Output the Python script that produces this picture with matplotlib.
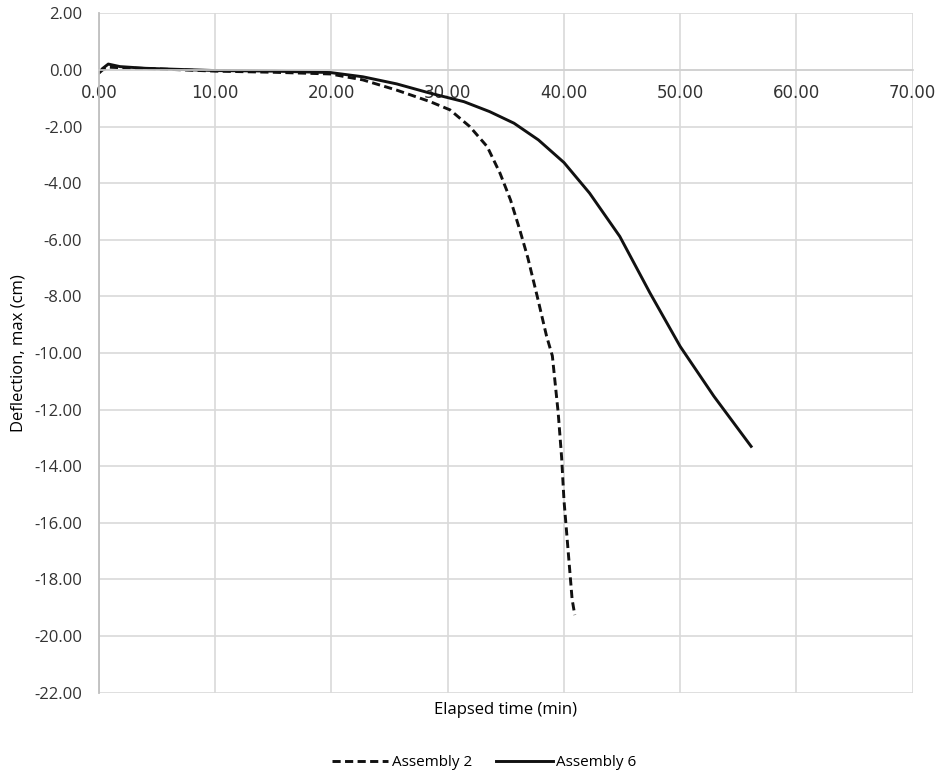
import numpy as np
import matplotlib
matplotlib.use('Agg')
import matplotlib.pyplot as plt

# Assembly 2 (dashed)
t_a2 = [0.0, 0.3, 0.8, 2.0, 5.0, 10.0, 15.0, 19.9, 22.7, 25.6, 28.5, 30.2, 31.9,
        33.4, 34.5, 35.4, 36.2, 36.9, 37.7, 38.5, 39.0, 39.5, 39.8, 40.0, 40.4,
        40.7, 40.93]
d_a2 = [-0.1, 0.0, 0.1, 0.08, 0.04, -0.04, -0.08, -0.14, -0.35, -0.71, -1.12, -1.41, -2.0,
        -2.71, -3.65, -4.59, -5.65, -6.65, -8.0, -9.4, -10.1, -12.1, -13.7, -15.2, -17.2,
        -18.7, -19.26]

# Assembly 6 (solid)
t_a6 = [0.0, 0.3, 0.8, 1.8, 4.0, 7.0, 10.0, 15.0, 19.9, 22.7, 25.6, 28.5, 31.4, 33.6,
        35.7, 37.8, 40.0, 42.2, 44.8, 47.4, 50.0, 52.9, 56.1]
d_a6 = [-0.1, 0.05, 0.21, 0.12, 0.06, 0.02, -0.02, -0.04, -0.09, -0.24, -0.49, -0.82,
        -1.12, -1.47, -1.88, -2.47, -3.27, -4.35, -5.88, -7.88, -9.77, -11.53, -13.3]

xticks = np.arange(0, 71, 10)
yticks = np.arange(-22, 3, 2)

W, H = 941, 775
fig = plt.figure(figsize=(W / 100, H / 100), dpi=100)
ax = fig.add_axes([99 / W, 1 - 692.6 / H, (912.7 - 99) / W, (692.6 - 13.4) / H])

ax.plot(t_a2, d_a2, color='#111111', lw=2.1, linestyle=(0, (2.8, 1.5)), label='Assembly 2',
        solid_joinstyle='round')
ax.plot(t_a6, d_a6, color='#111111', lw=2.1, label='Assembly 6', solid_joinstyle='round')

ax.set_xlim(0, 70)
ax.set_ylim(-22, 2)
ax.set_xticks(xticks)
ax.set_yticks(yticks)
ax.set_xticklabels(['%.2f' % v for v in xticks], family='Open Sans')
ax.set_yticklabels(['%.2f' % v for v in yticks], family='Open Sans')
ax.grid(True, color='#d9d9d9', lw=1.2)
ax.set_axisbelow(True)

for s in ['top', 'right']:
    ax.spines[s].set_visible(False)
ax.spines['left'].set_color('#bfbfbf')
ax.spines['left'].set_linewidth(1.3)
ax.spines['bottom'].set_position(('data', 0))
ax.spines['bottom'].set_color('#d0d0d0')
ax.spines['bottom'].set_linewidth(1.2)
ax.tick_params(length=0, labelsize=12, labelcolor='#333333')
ax.tick_params(axis='y', pad=12)
ax.tick_params(axis='x', pad=10)

ax.set_ylabel('Deflection, max (cm)', fontsize=12, family='Open Sans', labelpad=6)
fig.text((99 + 912.7) / 2 / W, 1 - 710 / H, 'Elapsed time (min)', ha='center', va='center',
         fontsize=12, family='Open Sans')

fig.legend(loc='center', bbox_to_anchor=(484 / W, 1 - 763 / H), ncol=2, frameon=False,
           prop={'family': 'Open Sans', 'size': 11}, handlelength=3.7, columnspacing=1.6,
           handletextpad=0.2)

fig.savefig('out.png', dpi=100)
